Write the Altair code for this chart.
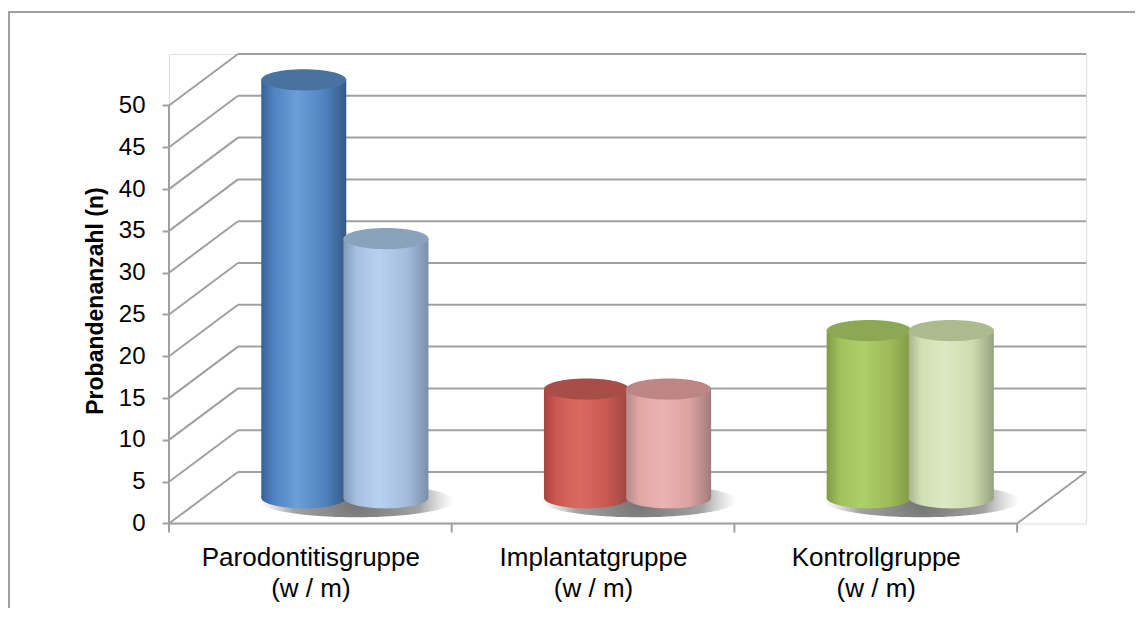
import altair as alt
import pandas as pd

# ---------------- data ----------------
groups = ["Parodontitisgruppe", "Implantatgruppe", "Kontrollgruppe"]
sub_label = "(w / m)"
female = [50, 13, 20]
male = [31, 13, 20]
y_ticks = [0, 5, 10, 15, 20, 25, 30, 35, 40, 45, 50]
y_title = "Probandenanzahl (n)"

# colour sets: left edge, body, highlight, body, right edge, cap
w_colors = [
    ["#35639A", "#4F83C2", "#6A9FD8", "#4F82BE", "#345A85", "#4A72A0"],
    ["#A8433F", "#CC5A52", "#DB6B61", "#C85850", "#9A4641", "#A84E48"],
    ["#7E9B46", "#A0C05C", "#AFCF69", "#9CBB58", "#7F9847", "#8DA855"],
]
m_colors = [
    ["#8399B5", "#A6C0E2", "#B9D1EF", "#A3BCDC", "#7B8FA8", "#8BA2BC"],
    ["#B48A88", "#DFA6A4", "#EBB3B1", "#DBA2A0", "#A07C7A", "#BD8684"],
    ["#A8B78F", "#D2E0B5", "#DDE9C3", "#CEDBB1", "#95A37E", "#ACBA8E"],
]
GRID = "#A0A0A0"
FONT = "Liberation Sans"

# ---------------- geometry (style) ----------------
GROUP_PX = 282.7
DEPTH_X_PX = 69.0
DEPTH_Y_PX = 51.5
PX_PER_UNIT = 8.36
CYL_PX = 85.0
TICK_PX = 9.0

dxu = DEPTH_X_PX / GROUP_PX
dyu = DEPTH_Y_PX / PX_PER_UNIT
x_max = len(groups) + dxu
y_max = max(y_ticks) + dyu
W = x_max * GROUP_PX
H = y_max * PX_PER_UNIT
cw = CYL_PX / GROUP_PX
base = dyu / 2

xscale = alt.Scale(domain=[0, x_max], nice=False, zero=False)
yscale = alt.Scale(domain=[0, y_max], nice=False, zero=False)

label_expr = ""
for i, g in enumerate(groups):
    arr = "['%s','%s']" % (g, sub_label)
    if i < len(groups) - 1:
        label_expr += "datum.value < %d ? %s : " % (i + 1, arr)
    else:
        label_expr += arr

xaxis = alt.Axis(values=[i + 0.5 for i in range(len(groups))], labelExpr=label_expr,
                 ticks=False, tickSize=0, domain=False, grid=False, title=None,
                 labelFontSize=26, labelPadding=21, labelLineHeight=31, labelLimit=600,
                 labelColor="black", labelFont=FONT, labelFlush=False, labelOverlap=False)
yaxis = alt.Axis(values=y_ticks, title=y_title, titleFontSize=23, titleFontWeight="bold",
                 titleFont=FONT, titleColor="black", titleX=-74, titleY=246.5,
                 titleBaseline="middle", labelFontSize=24, labelFont=FONT,
                 labelColor="black", tickSize=7, tickColor=GRID, tickWidth=2,
                 domain=False, grid=False, labelPadding=17, labelLimit=200)


def X(f="x"):
    return alt.X(f"{f}:Q", scale=xscale, axis=xaxis)


def Y(f="y"):
    return alt.Y(f"{f}:Q", scale=yscale, axis=yaxis)


layers = []

# outer chart frame
frame_df = pd.DataFrame({"k": [0]})
layers.append(
    alt.Chart(frame_df).mark_rect(fillOpacity=0, stroke=GRID, strokeWidth=2).encode(
        x=alt.value(-160), x2=alt.value(W + 200), y=alt.value(-42), y2=alt.value(H + 300)
    )
)

# 3D frame: walls, floor, axis line, ticks
segs = []
for v in y_ticks:
    segs.append((0, v, dxu, v + dyu))            # left wall diagonal
    segs.append((dxu, v + dyu, x_max, v + dyu))  # back wall grid line
segs.append((0, 0, 0, max(y_ticks)))              # front value axis
segs.append((0, 0, len(groups), 0))               # floor front edge
segs.append((len(groups), 0, x_max, dyu))         # floor right edge
for k in range(len(groups) + 1):
    segs.append((k, 0, k, -TICK_PX / PX_PER_UNIT))  # category tick marks
seg_df = pd.DataFrame(segs, columns=["x", "y", "x2", "y2"])
layers.append(
    alt.Chart(seg_df).mark_rule(color=GRID, strokeWidth=2).encode(
        x=X("x"), y=Y("y"), x2="x2:Q", y2="y2:Q"
    )
)

ELLIPSE = "M -1 0 A 1 0.25 0 1 1 1 0 A 1 0.25 0 1 1 -1 0 Z"
SHADOW = "M -1 0 A 1 0.17 0 1 1 1 0 A 1 0.17 0 1 1 -1 0 Z"


def body_gradient(c):
    return alt.LinearGradient(
        gradient="linear", x1=0, x2=1, y1=0, y2=0,
        stops=[alt.GradientStop(color=c[0], offset=0),
               alt.GradientStop(color=c[1], offset=0.15),
               alt.GradientStop(color=c[2], offset=0.42),
               alt.GradientStop(color=c[3], offset=0.75),
               alt.GradientStop(color=c[4], offset=1)])


shadow_grad = alt.RadialGradient(
    gradient="radial", x1=0.5, y1=0.5, r1=0, x2=0.5, y2=0.5, r2=0.5,
    stops=[alt.GradientStop(color="rgba(80,80,80,0.8)", offset=0),
           alt.GradientStop(color="rgba(100,100,100,0.6)", offset=0.65),
           alt.GradientStop(color="rgba(160,160,160,0)", offset=1)])

# shadows
centers = [i + 0.5 + dxu / 2 for i in range(len(groups))]
sh_df = pd.DataFrame({"x": [c + 0.04 for c in centers], "y": [base - 0.35] * len(groups)})
layers.append(
    alt.Chart(sh_df).mark_point(shape=SHADOW, filled=True, fill=shadow_grad, strokeWidth=0,
                                opacity=1, size=(CYL_PX * 2.3) ** 2).encode(x=X(), y=Y())
)

# cylinders
for i, c in enumerate(centers):
    for vals, cols, off in ((female, w_colors, -1), (male, m_colors, 1)):
        xc = c + off * (cw / 2 - 0.005)
        v = vals[i]
        col = cols[i]
        df_b = pd.DataFrame({"x": [xc], "y": [base]})
        df_r = pd.DataFrame({"x": [xc - cw / 2], "x2": [xc + cw / 2], "y": [base], "y2": [v + base]})
        df_t = pd.DataFrame({"x": [xc], "y": [v + base]})
        grad = body_gradient(col)
        layers.append(
            alt.Chart(df_b).mark_point(shape=ELLIPSE, filled=True, fill=grad, strokeWidth=0,
                                       opacity=1, size=CYL_PX ** 2).encode(x=X(), y=Y())
        )
        layers.append(
            alt.Chart(df_r).mark_rect(fill=grad).encode(x=X(), x2="x2:Q", y=Y(), y2="y2:Q")
        )
        layers.append(
            alt.Chart(df_t).mark_point(shape=ELLIPSE, filled=True, fill=col[5], strokeWidth=0,
                                       opacity=1, size=CYL_PX ** 2).encode(x=X(), y=Y())
        )

chart = alt.layer(*layers).properties(
    width=W, height=H,
    padding={"left": 161, "top": 46, "right": 1127 - 161 - W, "bottom": 84},
    autosize=alt.AutoSizeParams(type="none"),
).configure_view(stroke=None).configure(background="white")

chart.save("out.html", embed_options={"renderer": "svg", "actions": False})
